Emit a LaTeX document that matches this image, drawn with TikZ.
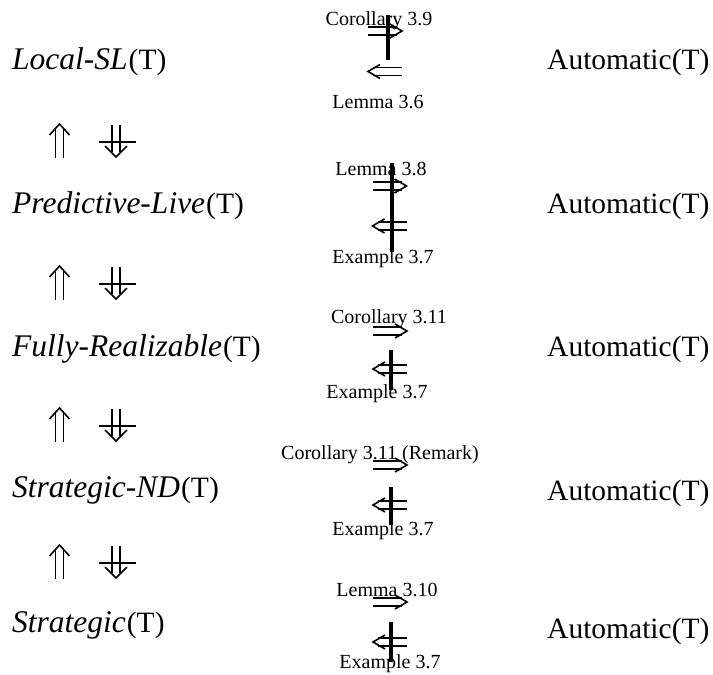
\documentclass[tikz,border=0pt]{standalone}
\usepackage{fontspec}
\setmainfont{Liberation Serif}
\begin{document}
\begin{tikzpicture}[x=1pt,y=-1pt,
  big/.style={font=\fontsize{29.5}{32}\selectfont, inner sep=0pt, anchor=base west},
  lbl/.style={font=\fontsize{20}{22}\selectfont, inner sep=0pt, anchor=base},
  thin/.style={line width=1.6pt},
  bar/.style={line width=3.2pt},
  pics/rimp/.style={code={
    \draw[thin] (-17,-4) -- (12,-4) (-17,4) -- (12,4);
    \draw[thin, line join=miter] (5,-7) -- (17,0) -- (5,7);
  }},
  pics/uimp/.style={code={
    \draw[thin] (-4,-12) -- (-4,17) (4,-12) -- (4,17);
    \draw[thin, line join=miter] (-10,-6) -- (0,-17) -- (10,-6);
  }},
  pics/dnimp/.style={code={
    \draw[thin] (-4,-16) -- (-4,11) (4,-16) -- (4,11);
    \draw[thin, line join=miter] (-11,5) -- (0,16) -- (11,5);
    \draw[thin] (-17,1) -- (20,1);
  }}
]
\useasboundingbox (0,0) rectangle (713,675);

\newcommand{\itl}[1]{{\fontsize{31.5}{32}\selectfont\textit{#1}\kern1pt}}

% left column
\node[big] (l1) at (12,69) {\itl{Local-SL}(T)};
\node[big] (l2) at (12,213) {\itl{Predictive-Live}(T)};
\node[big] (l3) at (12,356) {\itl{Fully-Realizable}(T)};
\node[big] (l4) at (12,497) {\itl{Strategic-ND}(T)};
\node[big] (l5) at (12,632) {\itl{Strategic}(T)};

% right column
\node[big] (r1) at (547,69) {Automatic(T)};
\node[big] (r2) at (547,213) {Automatic(T)};
\node[big] (r3) at (547,356) {Automatic(T)};
\node[big] (r4) at (547,500) {Automatic(T)};
\node[big] (r5) at (547,638) {Automatic(T)};

% vertical implications
\foreach \y in {141,283,425,562} {
  \pic at (59.5,\y) {uimp};
  \pic at (116,\y) {dnimp};
}

% row 1
\node[lbl] (a1) at (379,25) {Corollary 3.9};
\node[lbl] (b1) at (378,108) {Lemma 3.6};
\pic at (385,31) {rimp};
\pic[xscale=-1] at (385,71.5) {rimp};
\draw[bar] (388,15) -- (388,60);

% row 2
\node[lbl] (a2) at (381,175) {Lemma 3.8};
\node[lbl] (b2) at (383,263) {Example 3.7};
\pic at (389.5,186) {rimp};
\pic[xscale=-1] at (389.5,226) {rimp};
\draw[bar] (392,163) -- (392,252);

% row 3
\node[lbl] (a3) at (389,323) {Corollary 3.11};
\node[lbl] (b3) at (377,398) {Example 3.7};
\pic at (390,331) {rimp};
\pic[xscale=-1] at (390,369) {rimp};
\draw[bar] (391,350) -- (391,390);

% row 4
\node[lbl] (a4) at (380,459) {Corollary 3.11 (Remark)};
\node[lbl] (b4) at (383,535) {Example 3.7};
\pic at (390,465) {rimp};
\pic[xscale=-1] at (390,505) {rimp};
\draw[bar] (391,487) -- (391,525);

% row 5
\node[lbl] (a5) at (387,596) {Lemma 3.10};
\node[lbl] (b5) at (390,668) {Example 3.7};
\pic at (390,602) {rimp};
\pic[xscale=-1] at (390,642) {rimp};
\draw[bar] (391,622) -- (391,662);
\end{tikzpicture}
\end{document}
